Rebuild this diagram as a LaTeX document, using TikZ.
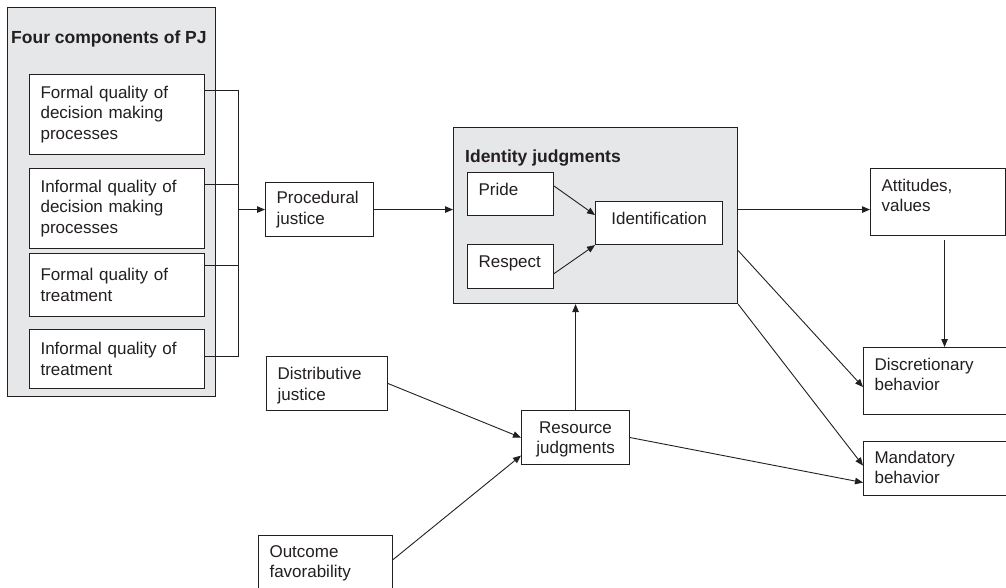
\documentclass[tikz,border=0pt]{standalone}
\usepackage{fontspec}
\setmainfont{Liberation Sans}
\usepackage{tikz}
\usepackage{xcolor}
\usetikzlibrary{arrows.meta, calc}

\definecolor{ink}{HTML}{231F20}
\definecolor{panel}{HTML}{E6E7E8}

\begin{document}
\begin{tikzpicture}[x=1pt, y=-1pt,
    box/.style={draw=ink, line width=1.1pt, fill=white, anchor=north west, align=left,
        inner xsep=11pt, inner ysep=0pt, text=ink, font=\fontsize{17}{20.5}\selectfont},
    lift/.style={text depth=#1},
    group/.style={draw=ink, line width=1.1pt, fill=panel, anchor=north west, inner sep=0pt},
    heading/.style={anchor=base west, inner sep=0pt, text=ink, font=\bfseries\fontsize{17.5}{21}\selectfont},
    link/.style={draw=ink, line width=0.9pt},
    arr/.style={link, -{Triangle[length=8pt, width=6.5pt]}}]
        \clip (0,0) rectangle (1006,587);

        % grouping panels
        \node[group, minimum width=208pt, minimum height=389pt] (pjgroup) at (7,7) {};
        \node[heading] (pjtitle) at (11,43) {Four components of PJ};
        \node[group, minimum width=284pt, minimum height=176pt] (idgroup) at (453,127) {};
        \node[heading] (idtitle) at (465,162) {Identity judgments};

        % four components
        \node[box, text width=153pt, minimum height=80pt] (fdm) at (29,74) {Formal quality of\\decision making\\processes};
        \node[box, text width=153pt, minimum height=80pt] (idm) at (29,168) {Informal quality of\\decision making\\processes};
        \node[box, text width=153pt, minimum height=63pt] (ftr) at (29,253) {Formal quality of\\treatment};
        \node[box, text width=153pt, minimum height=59pt] (itr) at (29,329) {Informal quality of\\treatment};

        \node[box, text width=86pt, minimum height=54pt] (proc) at (265,182) {Procedural\\justice};
        \node[box, lift=19.5pt, text width=99pt, minimum height=54pt] (dist) at (266,356) {Distributive\\justice};
        \node[box, text width=112pt, minimum height=56pt] (outc) at (258,535) {Outcome\\favorability};
        \node[box, lift=20pt, align=center, text width=86pt, minimum height=54pt] (res) at (521,410) {Resource\\judgments};

        % identity judgments
        \node[box, lift=10pt, text width=64pt, minimum height=43pt] (pride) at (467,172) {Pride};
        \node[box, lift=9.5pt, text width=64pt, minimum height=44pt] (respect) at (467,244) {Respect};
        \node[box, lift=8.5pt, align=center, text width=105pt, minimum height=43pt] (ident) at (595,201) {Identification};

        % outcomes
        \node[box, lift=34pt, text width=113pt, minimum height=67pt] (att) at (870,168) {Attitudes,\\values};
        \node[box, lift=34pt, text width=121pt, minimum height=67pt] (disc) at (863,347) {Discretionary\\behavior};
        \node[box, lift=23pt, text width=121pt, minimum height=54pt] (mand) at (863,441) {Mandatory\\behavior};

        % connectors
        \coordinate (bus) at ($(proc.west)+(-27,0)$);
        \foreach \b/\f in {fdm/.2, idm/.2, ftr/.2, itr/.45}
            \draw[link] ($(\b.north east)!\f!(\b.south east)$) -| (bus);
        \draw[arr] (bus) -- (proc.west);
        \draw[arr] (proc.east) -- (idgroup.west |- proc.east);
        \draw[arr] ([yshift=8pt]pride.east) -- ([yshift=8pt]ident.west);
        \draw[arr] ([yshift=-7pt]respect.east) -- (ident.south west);
        \draw[arr] (idgroup.east |- proc.east) -- (att.west |- proc.east);
        \coordinate (attdrop) at ([xshift=6.5pt]att.south);
        \draw[arr] ([yshift=-4pt]attdrop) -- (attdrop |- disc.north);
        \draw[arr] ([yshift=-35pt]idgroup.east) -- ([yshift=-6pt]disc.west);
        \draw[arr] (idgroup.south east) -- ([yshift=3pt]mand.west);
        \draw[arr] (res.east) -- ([yshift=-14pt]mand.west);
        \draw[arr] (res.north) -- (res.north |- idgroup.south);
        \draw[arr] (dist.east) -- (res.west);
        \draw[arr] ([yshift=4pt]outc.east) -- ([yshift=-18pt]res.west);
\end{tikzpicture}
\end{document}
